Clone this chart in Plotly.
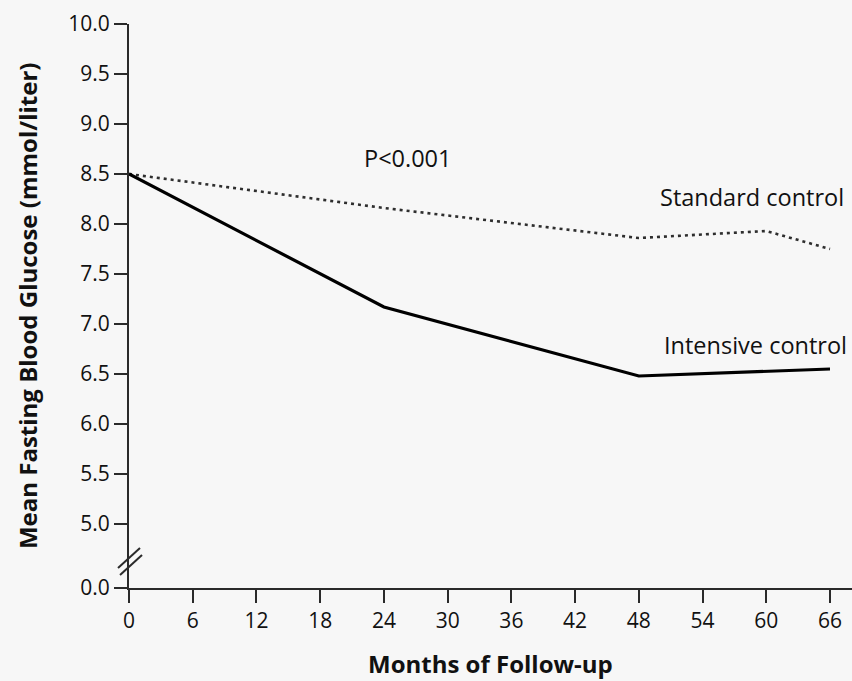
import plotly.graph_objects as go

months_standard = [0, 24, 48, 60, 66]
glucose_standard = [8.5, 8.16, 7.86, 7.93, 7.75]
months_intensive = [0, 24, 48, 66]
glucose_intensive = [8.5, 7.17, 6.48, 6.55]

x_ticks = list(range(0, 67, 6))
y_tick_vals = [4.36, 5.0, 5.5, 6.0, 6.5, 7.0, 7.5, 8.0, 8.5, 9.0, 9.5, 10.0]
y_tick_text = ["0.0", "5.0", "5.5", "6.0", "6.5", "7.0", "7.5", "8.0", "8.5", "9.0", "9.5", "10.0"]

FONT = "Open Sans"
TXT = "#111111"
AX = "#2a2a2a"
BG = "#f7f7f7"

fig = go.Figure()
fig.add_trace(go.Scatter(x=months_standard, y=glucose_standard, mode="lines",
                         line=dict(color="#2e2e2e", width=2.6, dash="3px,4px"),
                         showlegend=False, cliponaxis=False))
fig.add_trace(go.Scatter(x=months_intensive, y=glucose_intensive, mode="lines",
                         line=dict(color="#000000", width=3.2),
                         showlegend=False, cliponaxis=False))

tick_font = dict(family=FONT, size=21, color=TXT, weight=500)

fig.update_layout(
    width=852, height=681,
    margin=dict(l=129, r=0, t=24, b=93),
    paper_bgcolor=BG, plot_bgcolor=BG,
    font=dict(family=FONT, color=TXT, size=21),
    xaxis=dict(range=[0, 68.07], tickvals=x_ticks, ticktext=[str(v) for v in x_ticks],
               showline=True, linecolor=AX, linewidth=2, ticks="outside", ticklen=13,
               tickwidth=2, tickcolor=AX, showgrid=False, zeroline=False,
               tickfont=tick_font),
    yaxis=dict(range=[4.36, 10.0], tickvals=y_tick_vals, ticktext=y_tick_text,
               showline=True, linecolor=AX, linewidth=2, ticks="outside", ticklen=13,
               tickwidth=2, tickcolor=AX, showgrid=False, zeroline=False,
               tickfont=tick_font),
    showlegend=False,
)

lab_font = dict(size=23.5, family=FONT, color=TXT, weight=500)
title_font = dict(size=24, family=FONT, color=TXT)

annotations = [
    dict(text="P<0.001", x=26.3, y=8.66, xref="x", yref="y", showarrow=False,
         xanchor="center", yanchor="middle", font=lab_font),
    dict(text="Standard control", x=67.5, y=8.27, xref="x", yref="y", showarrow=False,
         xanchor="right", yanchor="middle", font=lab_font),
    dict(text="Intensive control", x=67.8, y=6.79, xref="x", yref="y", showarrow=False,
         xanchor="right", yanchor="middle", font=lab_font),
    dict(text="<b>Months of Follow-up</b>", x=0.5, y=-0.133, xref="paper", yref="paper",
         showarrow=False, xanchor="center", yanchor="middle", font=title_font),
    dict(text="<b>Mean Fasting Blood Glucose (mmol/liter)</b>", x=-0.141, y=0.5,
         xref="paper", yref="paper", showarrow=False, textangle=-90,
         xanchor="center", yanchor="middle", font=title_font),
]
fig.update_layout(annotations=annotations)

# axis-break marks
fig.add_shape(type="line", xref="paper", yref="y", x0=-0.0152, y0=4.56, x1=0.0152, y1=4.76,
              line=dict(color=AX, width=2))
fig.add_shape(type="line", xref="paper", yref="y", x0=-0.0124, y0=4.49, x1=0.018, y1=4.69,
              line=dict(color=AX, width=2))

fig.write_html("out.html")
